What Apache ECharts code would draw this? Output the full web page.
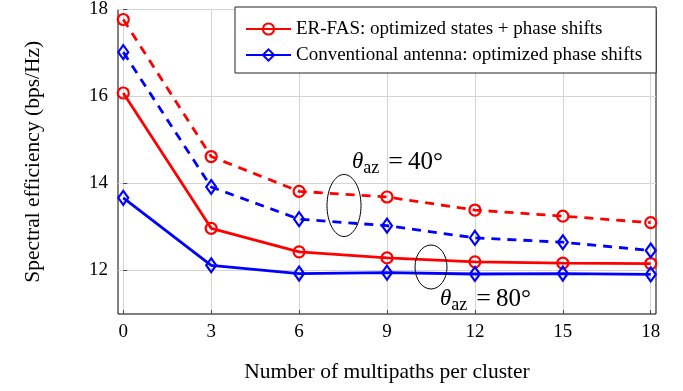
<!DOCTYPE html>
<html>
<head>
<meta charset="utf-8">
<script src="https://cdn.jsdelivr.net/npm/echarts@6/dist/echarts.min.js"></script>
<style>html,body{margin:0;padding:0;background:#fff;}#c{width:683px;height:391px;}</style>
</head>
<body>
<div id="c"></div>
<script>
var xValues = [0, 3, 6, 9, 12, 15, 18];
var xTicks = [0, 3, 6, 9, 12, 15, 18];
var yTicks = [12, 14, 16, 18];
var erfas80 = [16.08, 12.97, 12.43, 12.29, 12.20, 12.17, 12.16];
var conv80 = [13.67, 12.12, 11.93, 11.95, 11.92, 11.93, 11.91];
var erfas40 = [17.77, 14.62, 13.82, 13.69, 13.39, 13.25, 13.10];
var conv40 = [17.02, 13.92, 13.18, 13.03, 12.75, 12.65, 12.46];
var nameER = 'ER-FAS: optimized states + phase shifts';
var nameConv = 'Conventional antenna: optimized phase shifts';

var FONT = 'Liberation Serif';
function pairs(vals) { return xValues.map(function (x, i) { return [x, vals[i]]; }); }

var RED = '#ff0000', BLUE = '#0000ff';
function mk(name, vals, color, symbol, size, dashed) {
  return {
    name: name, type: 'line', data: pairs(vals),
    symbol: symbol, symbolSize: size, showSymbol: true,
    itemStyle: { color: 'rgba(255,255,255,0)', borderColor: color, borderWidth: 2.2 },
    lineStyle: { color: color, width: 2.8, type: dashed ? [9, 7] : 'solid' },
    emphasis: { disabled: true }, animation: false
  };
}

var annRich = {
  t: { fontFamily: FONT, fontStyle: 'italic', fontSize: 23, fill: '#000' },
  s: { fontFamily: FONT, fontSize: 18, fill: '#000', padding: [12, 0, 0, 0] },
  e: { fontFamily: FONT, fontSize: 26, fill: '#000', padding: [0, 5, 0, 9] },
  n: { fontFamily: FONT, fontSize: 25, fill: '#000' }
};

var chart = echarts.init(document.getElementById('c'), null, { renderer: 'canvas' });
chart.setOption({
  animation: false,
  backgroundColor: '#fff',
  grid: { left: 118, right: 27, top: 7, bottom: 77, show: true, borderColor: '#000', borderWidth: 1, backgroundColor: 'transparent' },
  xAxis: {
    type: 'value', min: -0.18, max: 18.18,
    name: 'Number of multipaths per cluster', nameLocation: 'middle', nameGap: 47,
    nameTextStyle: { fontFamily: FONT, fontSize: 21.5, color: '#000' },
    axisLine: { show: false },
    axisTick: { show: true, inside: true, length: 4, customValues: xTicks, lineStyle: { color: '#444' } },
    axisLabel: { customValues: xTicks, fontFamily: FONT, fontSize: 19, color: '#000', margin: 9 },
    splitLine: { show: true, lineStyle: { color: '#d4d4d4', width: 1 } }
  },
  yAxis: {
    type: 'value', min: 11, max: 18,
    name: 'Spectral efficiency (bps/Hz)', nameLocation: 'middle', nameGap: 74,
    nameTextStyle: { fontFamily: FONT, fontSize: 21.5, color: '#000' },
    axisLine: { show: false },
    axisTick: { show: true, inside: true, length: 4, customValues: yTicks, lineStyle: { color: '#444' } },
    axisLabel: { customValues: yTicks, fontFamily: FONT, fontSize: 19, color: '#000', margin: 10 },
    splitLine: { show: true, lineStyle: { color: '#d4d4d4', width: 1 } }
  },
  legend: {
    orient: 'vertical', left: 235, top: 7,
    data: [nameER, nameConv],
    backgroundColor: '#fff', borderColor: '#222', borderWidth: 1,
    padding: [12, 14, 8, 10], itemGap: 6, itemWidth: 45, itemHeight: 14,
    textStyle: { fontFamily: FONT, fontSize: 19, color: '#000', lineHeight: 20 }
  },
  series: [
    mk(nameER, erfas80, RED, 'circle', 11, false),
    mk(nameConv, conv80, BLUE, 'diamond', [10, 14], false),
    mk(nameER, erfas40, RED, 'circle', 11, true),
    mk(nameConv, conv40, BLUE, 'diamond', [10, 14], true)
  ],
  graphic: [
    { type: 'ellipse', shape: { cx: 344, cy: 205.5, rx: 17, ry: 31 }, style: { fill: 'none', stroke: '#000', lineWidth: 1 }, z: 100 },
    { type: 'ellipse', shape: { cx: 431, cy: 267, rx: 16, ry: 22 }, style: { fill: 'none', stroke: '#000', lineWidth: 1 }, z: 100 },
    { type: 'text', left: 352, top: 149, z: 100, style: { text: '{t|θ}{s|az}{e|=}{n|40°}', rich: annRich } },
    { type: 'text', left: 440, top: 286, z: 100, style: { text: '{t|θ}{s|az}{e|=}{n|80°}', rich: annRich } }
  ]
});
</script>
</body>
</html>
